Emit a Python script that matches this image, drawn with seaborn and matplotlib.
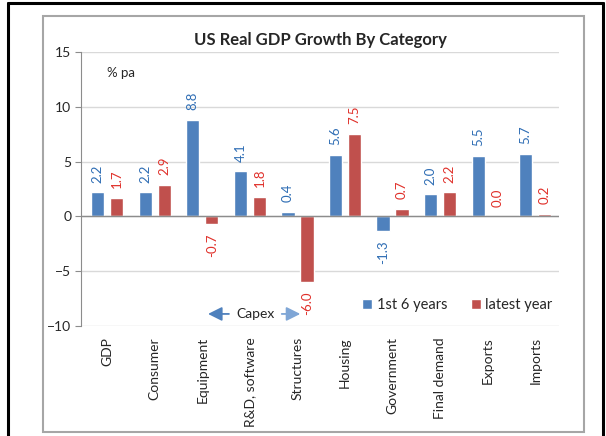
#!/usr/bin/env python3
"""US real GDP growth by category: first six years vs latest year."""

import matplotlib

matplotlib.use("Agg")
import matplotlib.pyplot as plt
import pandas as pd
import seaborn as sns
from matplotlib.lines import Line2D
from matplotlib.patches import Rectangle

CATEGORIES = ["GDP", "Consumer", "Equipment", "R&D, software", "Structures",
              "Housing", "Government", "Final demand", "Exports", "Imports"]
FIRST_SIX_YEARS = [2.2, 2.2, 8.8, 4.1, 0.4, 5.6, -1.3, 2.0, 5.5, 5.7]
LATEST_YEAR = [1.7, 2.9, -0.7, 1.8, -6.0, 7.5, 0.7, 2.2, 0.0, 0.2]
SERIES_NAMES = ["1st 6 years", "latest year"]
Y_TICKS = [-10, -5, 0, 5, 10, 15]

BAR_COLOURS = ["#4F81BD", "#C0504D"]
LABEL_COLOURS = ["#2E6DB4", "#E0302A"]


def main() -> None:
    sns.set_style("white")
    plt.rcParams["font.family"] = ["Lato", "DejaVu Sans"]

    df = pd.DataFrame({
        "category": CATEGORIES * 2,
        "value": FIRST_SIX_YEARS + LATEST_YEAR,
        "series": [SERIES_NAMES[0]] * len(CATEGORIES) + [SERIES_NAMES[1]] * len(CATEGORIES),
    })

    fig = plt.figure(figsize=(6.06, 4.36), dpi=100)
    ax = fig.add_axes([0.1337, 0.2523, 0.7888, 0.6284])

    sns.barplot(data=df, x="category", y="value", hue="series",
                palette=BAR_COLOURS, saturation=1, width=0.8, gap=0.3, ax=ax)

    for container, colour in zip(ax.containers, LABEL_COLOURS):
        ax.bar_label(container, fmt="%.1f", rotation=90, padding=7,
                     color=colour, fontsize=9.5)

    ax.set_xlim(-0.55, 9.5)
    ax.set_ylim(-10, 15)
    ax.set_yticks(Y_TICKS)
    ax.yaxis.grid(True, color="#D9D9D9", linewidth=1)
    ax.set_axisbelow(True)
    ax.axhline(0, color="#8C8C8C", linewidth=1, zorder=1)
    for side in ("top", "right", "bottom"):
        ax.spines[side].set_visible(False)
    ax.spines["left"].set_color("#8C8C8C")
    ax.tick_params(axis="y", left=True, length=4, color="#8C8C8C",
                   labelsize=10, pad=3)
    ax.tick_params(axis="x", length=0, pad=8, labelsize=10)
    plt.setp(ax.get_xticklabels(), rotation=90, va="top")
    ax.set_xlabel("")
    ax.set_ylabel("")

    ax.set_title("US Real GDP Growth By Category", fontsize=12,
                 fontweight="bold", pad=5)
    ax.text(0.0, 13.1, "% pa", fontsize=9.5, va="center", ha="left")

    # Capex bracket under equipment / R&D / structures
    arrow_style = "-|>,head_length=0.7,head_width=0.35"
    ax.text(3.11, -8.9, "Capex", fontsize=10, ha="center", va="center")
    ax.annotate("", xy=(2.12, -8.9), xytext=(2.56, -8.9),
                arrowprops=dict(arrowstyle=arrow_style, color="#4F81BD",
                                lw=1.3, mutation_scale=12,
                                shrinkA=0, shrinkB=0))
    ax.annotate("", xy=(4.06, -8.9), xytext=(3.67, -8.9),
                arrowprops=dict(arrowstyle=arrow_style, color="#7FA6D6",
                                lw=1.3, mutation_scale=12,
                                shrinkA=0, shrinkB=0))

    handles, labels = ax.get_legend_handles_labels()
    ax.legend(handles, labels, loc="center", bbox_to_anchor=(0.787, 0.077),
              ncol=2, frameon=False, fontsize=10.5, handlelength=0.7,
              handleheight=0.7, handletextpad=0.3, columnspacing=1.6)

    # chart-area frame and the outer black border
    fig.add_artist(Rectangle((43 / 606, 1 - 432 / 436), 541 / 606, 416 / 436,
                             transform=fig.transFigure, fill=False,
                             edgecolor="#A6A6A6", linewidth=1.5))
    for xs, ys in (((8 / 606, 8 / 606), (0, 1 - 3 / 436)),
                   ((603 / 606, 603 / 606), (0, 1 - 3 / 436)),
                   ((8 / 606, 603 / 606), (1 - 3 / 436, 1 - 3 / 436))):
        fig.add_artist(Line2D(xs, ys, transform=fig.transFigure,
                              color="black", linewidth=2.2))

    fig.savefig("out.png", dpi=100)


if __name__ == "__main__":
    main()
